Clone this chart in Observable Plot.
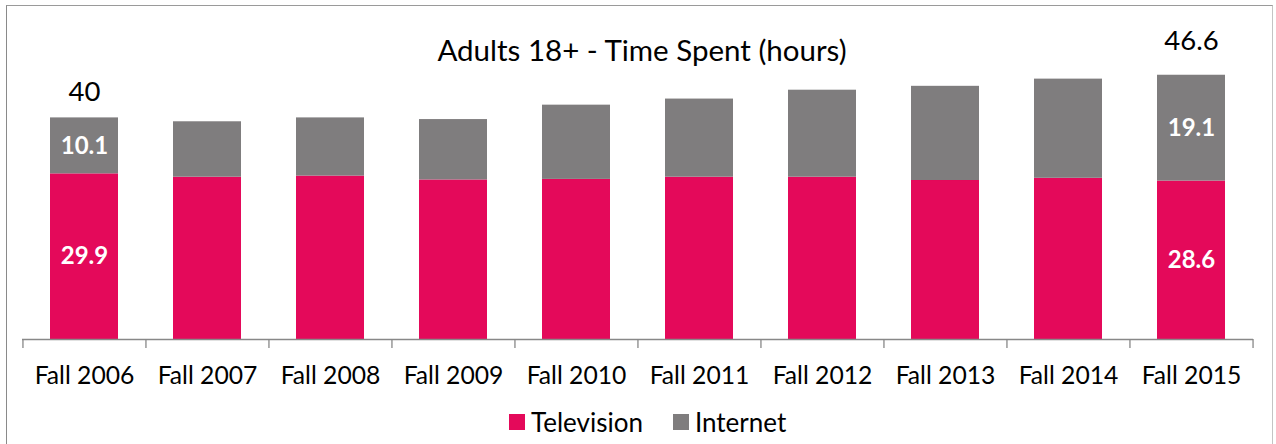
<!DOCTYPE html>
<html>
<head>
<meta charset="utf-8">
<script src="https://cdn.jsdelivr.net/npm/d3@7"></script>
<script src="https://cdn.jsdelivr.net/npm/@observablehq/plot@0.6"></script>
<style>
  html, body { margin: 0; padding: 0; background: #fff; }
  #wrap { position: relative; width: 1276px; height: 444px; overflow: hidden; font-family: Lato, "Open Sans", sans-serif; }
  #frame { position: absolute; left: 6px; top: 4.5px; width: 1267px; height: 600px; border-left: 1.6px solid #8a8a8a; border-top: 1.5px solid #9a9a9a; border-right: 1px solid #c4c4c4; box-sizing: border-box; }
  #chart { position: absolute; left: 0; top: 0; }
  #legend { position: absolute; left: 509px; top: 407px; display: flex; align-items: center; font-size: 26px; line-height: 30px; color: #000; }
  .sw { width: 16px; height: 15.5px; display: inline-block; margin-right: 6px; }
  .item { display: flex; align-items: center; margin-right: 30px; }
</style>
</head>
<body>
<div id="wrap">
  <div id="frame"></div>
  <div id="chart"></div>
  <div id="legend"></div>
</div>
<script>
// ---- data ----
const categories = ["Fall 2006", "Fall 2007", "Fall 2008", "Fall 2009", "Fall 2010", "Fall 2011", "Fall 2012", "Fall 2013", "Fall 2014", "Fall 2015"];
const television = [29.9, 29.3, 29.5, 28.8, 28.9, 29.3, 29.3, 28.7, 29.1, 28.6];
const internet   = [10.1, 10.0, 10.5, 10.9, 13.4, 14.1, 15.7, 17.0, 17.9, 19.1];
const seriesNames = ["Television", "Internet"];
const seriesColors = ["#E4095A", "#7F7D7E"];
const title = "Adults 18+ - Time Spent (hours)";
const totalLabelFirst = "40";
const totalLabelLast = "46.6";

// ---- table ----
const rows = [];
categories.forEach((c, i) => {
  rows.push({category: c, series: "Television", value: television[i], i});
  rows.push({category: c, series: "Internet", value: internet[i], i});
});
const n = categories.length;
const labeled = (i) => i === 0 || i === n - 1;
const segLabels = [];
categories.forEach((c, i) => {
  if (!labeled(i)) return;
  segLabels.push({category: c, y: television[i] / 2, text: television[i].toFixed(1)});
  segLabels.push({category: c, y: television[i] + internet[i] / 2, text: internet[i].toFixed(1)});
});
const totals = categories.map((c, i) => ({category: c, total: television[i] + internet[i]}));

const W = 1276, H = 444;
const mL = 22, mR = 23;
const step = (W - mL - mR) / n;
const font = "Lato, 'Open Sans', sans-serif";

const chart = Plot.plot({
  width: W,
  height: H,
  marginLeft: mL,
  marginRight: mR,
  marginTop: 62,
  marginBottom: 105,
  style: {fontFamily: font, background: "transparent", color: "#000"},
  x: {type: "band", domain: categories, paddingInner: 0.45, paddingOuter: 0.225, label: null},
  y: {domain: [0, 50], axis: null},
  color: {domain: seriesNames, range: seriesColors},
  marks: [
    Plot.barY(rows, Plot.stackY({x: "category", y: "value", fill: "series", order: seriesNames})),
    Plot.ruleY([0], {stroke: "#888", strokeWidth: 1.3}),
    Plot.ruleX(categories, {x: d => d, y1: 0, y2: 0, insetBottom: -9, dx: -step / 2, stroke: "#888", strokeWidth: 1.3}),
    Plot.ruleX([categories[n - 1]], {x: d => d, y1: 0, y2: 0, insetBottom: -9, dx: step / 2, stroke: "#888", strokeWidth: 1.3}),
    Plot.axisX({tickSize: 0, tickPadding: 27, fontSize: 24.7, fill: "#000", label: null}),
    Plot.text(segLabels, {x: "category", y: "y", text: "text", fill: "#fff", fontWeight: "bold", fontSize: 24}),
    Plot.text([totals[0]], {x: "category", y: "total", text: () => totalLabelFirst, fontSize: 27.5, fill: "#000", dy: -26}),
    Plot.text([totals[n - 1]], {x: "category", y: "total", text: () => totalLabelLast, fontSize: 27.5, fill: "#000", dy: -34}),
    Plot.text([title], {frameAnchor: "top", text: d => d, fontSize: 29.5, fill: "#000", dy: -22, dx: 4})
  ]
});
document.getElementById("chart").appendChild(chart);

// ---- legend ----
const legend = document.getElementById("legend");
seriesNames.forEach((s, i) => {
  const item = document.createElement("span");
  item.className = "item";
  const sw = document.createElement("span");
  sw.className = "sw";
  sw.style.background = seriesColors[i];
  item.appendChild(sw);
  const t = document.createElement("span");
  t.textContent = s;
  item.appendChild(t);
  legend.appendChild(item);
});
</script>
</body>
</html>
